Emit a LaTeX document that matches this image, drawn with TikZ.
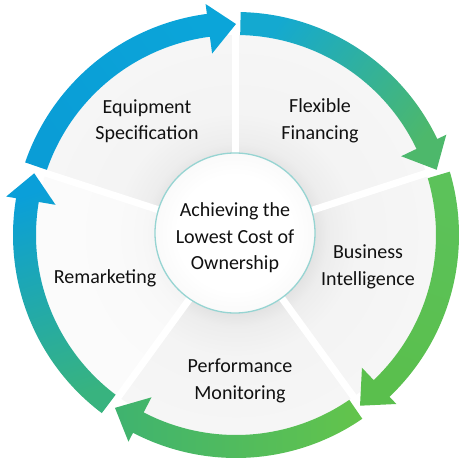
\documentclass[tikz,border=0pt]{standalone}
\usepackage{fontspec}
\setmainfont{Carlito}
\pgfdeclareradialshading{sectorshade}{\pgfpoint{0bp}{0bp}}{color(0bp)=(black!12); color(9.8bp)=(black!11); color(11.5bp)=(black!7); color(15bp)=(black!4.5); color(25bp)=(black!3.5); color(50bp)=(black!3.5)}
\pgfdeclareradialshading{hubshade}{\pgfpoint{0bp}{0bp}}{color(0bp)=(white); color(18bp)=(white); color(25bp)=(black!2); color(50bp)=(black!2)}
\definecolor{aonet}{HTML}{0A9DD6}\definecolor{aonem}{HTML}{06B3E3}\definecolor{aoneb}{HTML}{0BA5D9}
\definecolor{atwot}{HTML}{14A9D0}\definecolor{atwom}{HTML}{30C6BC}\definecolor{atwob}{HTML}{4DB86B}
\definecolor{athrt}{HTML}{5CC25A}\definecolor{athrm}{HTML}{6FCC5A}\definecolor{athrb}{HTML}{5ABF4D}
\definecolor{afout}{HTML}{63C44B}\definecolor{afoum}{HTML}{7BD066}\definecolor{afoub}{HTML}{3FB36F}
\definecolor{afivt}{HTML}{38B37F}\definecolor{afivm}{HTML}{22C0CC}\definecolor{afivb}{HTML}{0A9FD9}
\definecolor{hubline}{HTML}{96D4D2}
\definecolor{txt}{HTML}{111111}
\newcommand\ringarrow[5]{%
  \pgfmathsetmacro\hd{#2+7.5}%
  \pgfmathsetmacro\md{(#1+#2)/2}%
  \shade[top color=#3, middle color=#4, bottom color=#5, shading angle=\md]
    (#1:223) arc[start angle=#1, end angle=\hd, radius=223] -- (\hd:233) -- (#2:211)
    -- (\hd:183) -- (\hd:200) arc[start angle=\hd, end angle=#1, radius=200] -- cycle;}
\begin{document}
\begin{tikzpicture}[x=1pt,y=1pt,
  lbl/.style={align=center, font=\fontsize{20}{26.5}\selectfont, text=txt, inner sep=0pt}]
\useasboundingbox (-236,-228) rectangle (227,235);
% sectors
\shade[shading=sectorshade] (0,0) circle (200);
\fill[white, opacity=0.6] (0,0) -- (162:201) arc[start angle=162, end angle=234, radius=201] -- cycle;
\foreach \g in {90,18,-54,-126,162} \draw[white, line width=7] (0,0) -- (\g:205);
% arrows
\ringarrow{161}{90}{aonet}{aonem}{aoneb}
\ringarrow{88.8}{18}{atwot}{atwom}{atwob}
\ringarrow{16.5}{-54}{athrt}{athrm}{athrb}
\ringarrow{-55.5}{-125}{afout}{afoum}{afoub}
\ringarrow{-127}{-197}{afivt}{afivm}{afivb}
% hub
\node[circle, minimum size=160, inner sep=0pt, draw=hubline, line width=1.3, shading=hubshade] (hub) at (-1,2) {};
\node[lbl] (hubtext) at (-1,-3) {Achieving the\\Lowest Cost of\\Ownership};
% labels
\node[lbl] (equip) at (-89,114) {Equipment\\Specification};
\node[lbl] (flex) at (84,114) {Flexible\\Financing};
\node[lbl] (bi) at (132,-32) {Business\\Intelligence};
\node[lbl] (perf) at (4,-146) {Performance\\Monitoring};
\node[lbl] (remark) at (-131,-43) {Remarketing};
\end{tikzpicture}
\end{document}
